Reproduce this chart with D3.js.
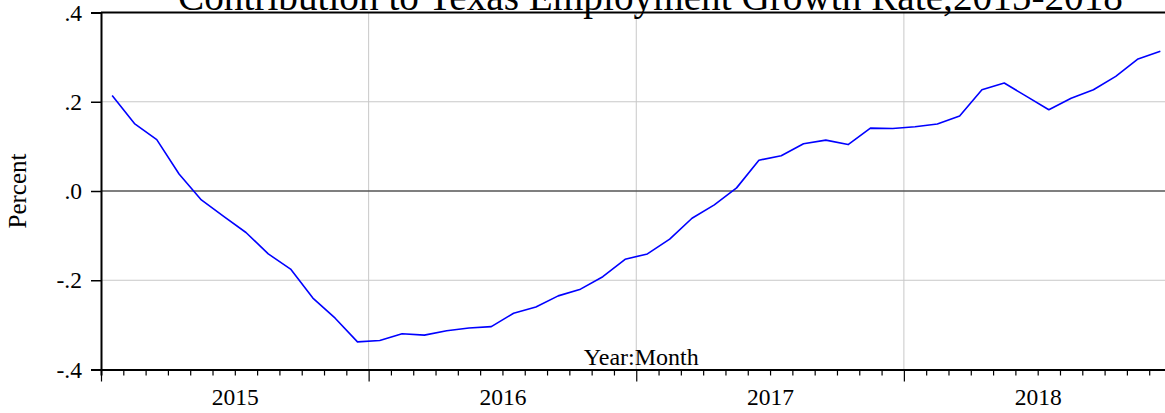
<!DOCTYPE html>
<html><head><meta charset="utf-8">
<script src="https://cdn.jsdelivr.net/npm/d3@7"></script>
<style>
html,body{margin:0;padding:0;background:#fff;overflow:hidden;}
svg{display:block;}
text{font-family:"Liberation Serif","Times New Roman",serif;fill:#000;}
</style></head>
<body>
<svg id="chart" width="1165" height="413"></svg>
<script>
const years = ["2015","2016","2017","2018"];
const months = ["Jan","Feb","Mar","Apr","May","Jun","Jul","Aug","Sep","Oct","Nov","Dec"];
const values2015 = [0.214, 0.151, 0.115, 0.038, -0.020, -0.057, -0.093, -0.141, -0.175, -0.240, -0.285, -0.338];
const values2016 = [-0.335, -0.320, -0.323, -0.313, -0.307, -0.304, -0.274, -0.260, -0.235, -0.220, -0.192, -0.153];
const values2017 = [-0.141, -0.108, -0.061, -0.031, 0.007, 0.069, 0.079, 0.106, 0.114, 0.104, 0.141, 0.140];
const values2018 = [0.144, 0.150, 0.168, 0.227, 0.242, 0.212, 0.182, 0.208, 0.227, 0.257, 0.296, 0.313];
const yTicks = [-0.4, -0.2, 0.0, 0.2, 0.4];
const yTickLabels = ["-.4", "-.2", ".0", ".2", ".4"];
const titleText = "Contribution to Texas Employment Growth Rate,2015-2018";
const yLabel = "Percent";
const xLabel = "Year:Month";

(function(){
const allValues = [values2015, values2016, values2017, values2018];
const data = [];
allValues.forEach((arr, yi) => arr.forEach((v, mi) => data.push({idx: yi*12 + mi, v})));

const FS = "23.5px";
const svg = d3.select("#chart");
const pLeft = 101, pRight = 1171.5, pTop = 12.5, pBottom = 369.5;
const nMonths = years.length * 12;
const x = d3.scaleLinear().domain([0, nMonths]).range([pLeft, pRight]);
const y = d3.scaleLinear().domain([-0.4, 0.4]).range([pBottom, pTop]);

// horizontal gridlines
svg.append("g").selectAll("line").data(yTicks.filter(t => t !== 0 && Math.abs(t) < 0.4)).join("line")
  .attr("x1", pLeft).attr("x2", pRight).attr("y1", d => y(d)).attr("y2", d => y(d))
  .attr("stroke", "#c8c8c8").attr("stroke-width", 1);
// vertical gridlines at year boundaries
svg.append("g").selectAll("line").data(d3.range(1, years.length)).join("line")
  .attr("x1", d => x(d*12)).attr("x2", d => x(d*12)).attr("y1", pTop).attr("y2", pBottom)
  .attr("stroke", "#c8c8c8").attr("stroke-width", 1);
// zero line
svg.append("line").attr("x1", pLeft).attr("x2", pRight).attr("y1", y(0)).attr("y2", y(0))
  .attr("stroke", "#555").attr("stroke-width", 1.6);

// data line
svg.append("path").datum(data)
  .attr("fill", "none").attr("stroke", "#0000ff").attr("stroke-width", 1.6)
  .attr("stroke-linejoin", "round")
  .attr("d", d3.line().x(d => x(d.idx + 0.5)).y(d => y(d.v)));

// frame: top
svg.append("line").attr("x1", pLeft).attr("x2", pRight).attr("y1", pTop).attr("y2", pTop)
  .attr("stroke", "#000").attr("stroke-width", 2);

// y axis
const yAxis = d3.axisLeft(y).tickValues(yTicks).tickSize(10).tickPadding(9)
  .tickFormat((d, i) => yTickLabels[i]);
const gy = svg.append("g").attr("transform", `translate(${pLeft},0)`).call(yAxis);
gy.select(".domain").attr("stroke", "#000").attr("stroke-width", 2);
gy.selectAll(".tick line").attr("stroke", "#000").attr("stroke-width", 1.5);
gy.selectAll(".tick text").style("font-family", '"Liberation Serif", serif').style("font-size", FS).attr("fill", "#000");

// x axis: month minor ticks
const gx = svg.append("g").attr("transform", `translate(0,${pBottom})`);
const xAxisMinor = d3.axisBottom(x).tickValues(d3.range(0, nMonths + 1)).tickSize(6).tickFormat("");
gx.call(xAxisMinor);
gx.select(".domain").attr("stroke", "#000").attr("stroke-width", 2);
gx.selectAll(".tick line").attr("stroke", "#000").attr("stroke-width", 1.2)
  .attr("y2", (d) => d % 12 === 0 ? 12 : 6);
// year labels
const gxl = svg.append("g").attr("transform", `translate(0,${pBottom})`);
const xAxisYears = d3.axisBottom(x).tickValues(years.map((_, i) => i*12 + 6)).tickSize(0).tickPadding(19)
  .tickFormat((d) => years[(d - 6)/12]);
gxl.call(xAxisYears);
gxl.select(".domain").remove();
gxl.selectAll(".tick text").style("font-family", '"Liberation Serif", serif').style("font-size", FS).attr("fill", "#000");

// x label
svg.append("text").attr("x", x(nMonths/2) + 5).attr("y", 365).attr("text-anchor", "middle")
  .style("font-size", "24px").text(xLabel);

// y label
svg.append("text").attr("transform", `translate(26,${y(0)}) rotate(-90)`).attr("text-anchor", "middle")
  .style("font-size", "25px").text(yLabel);

// title
const title = svg.append("text").attr("x", 650.5).attr("y", 10).attr("text-anchor", "middle")
  .style("font-size", "30px").text(titleText);
const w = title.node().getComputedTextLength();
title.style("font-size", (30 * 945 / w).toFixed(2) + "px");
})();
</script>
</body></html>
